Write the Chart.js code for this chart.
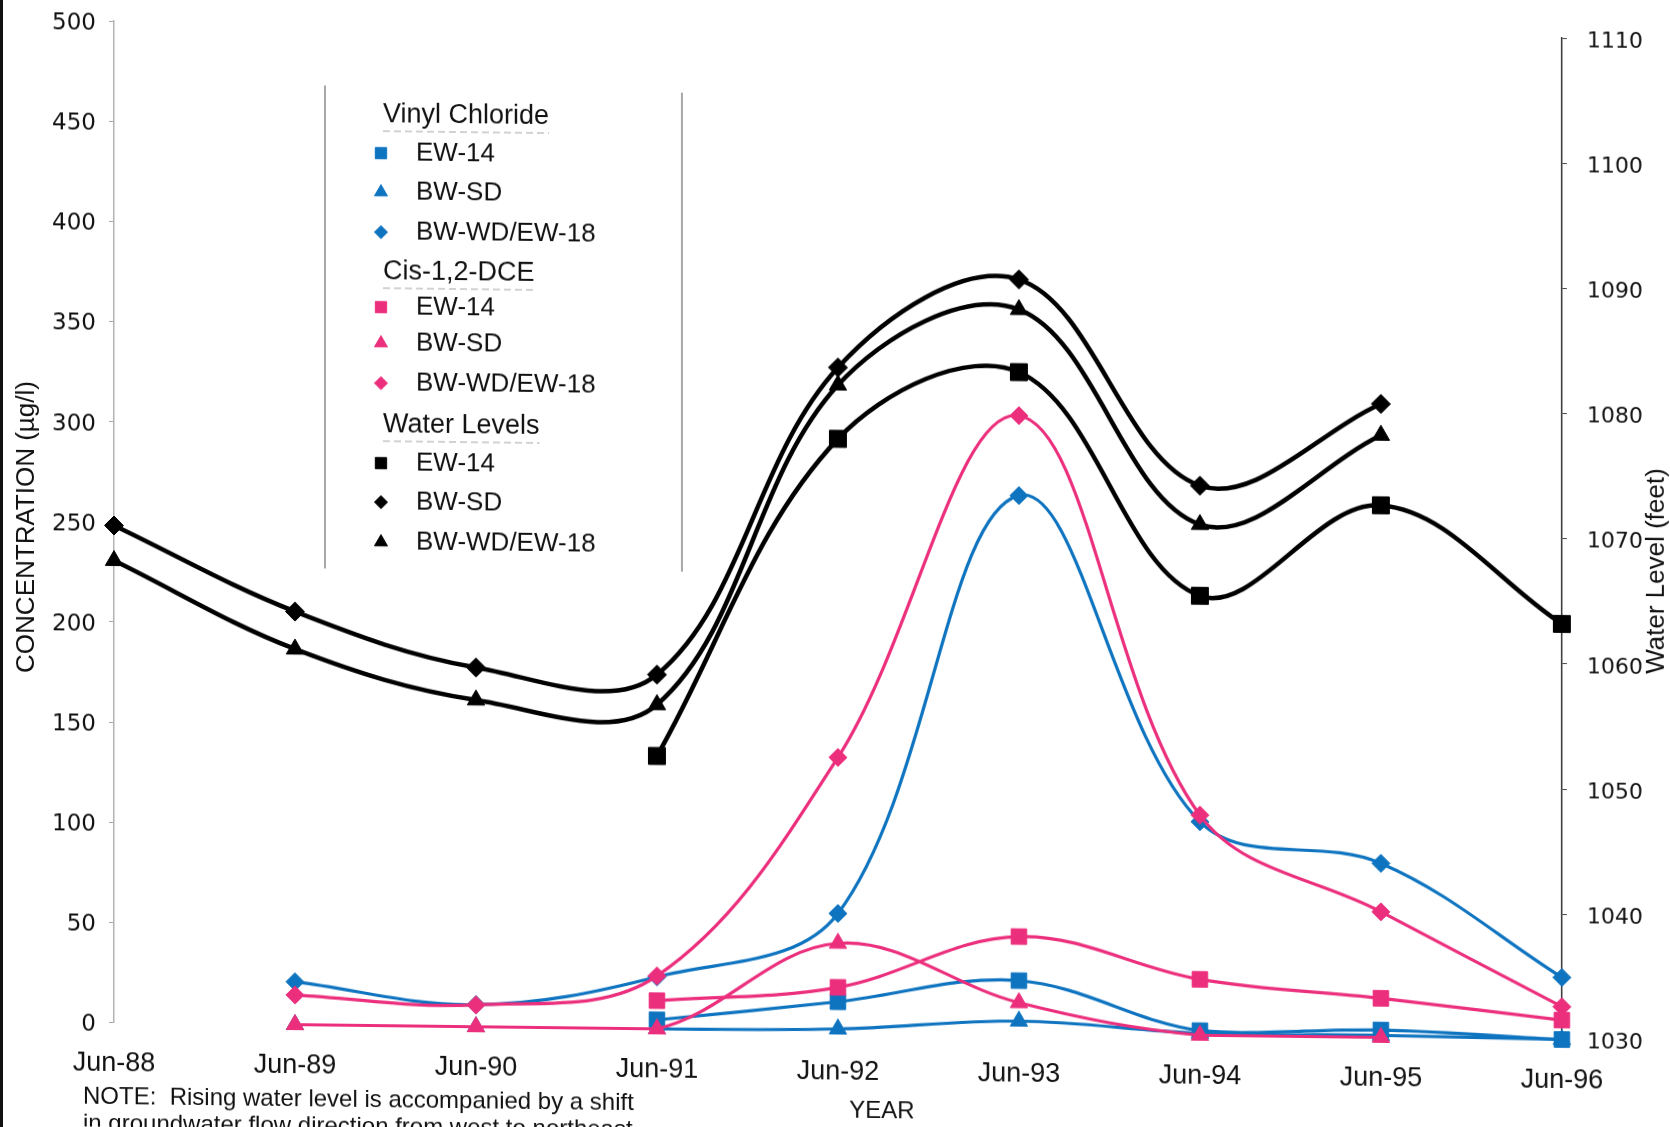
<!DOCTYPE html>
<html>
<head>
<meta charset="utf-8">
<title>Concentration and Water Levels, Jun-88 to Jun-96</title>
<script src="https://cdn.jsdelivr.net/npm/chart.js@4.4.1/dist/chart.umd.min.js"></script>
<style>
  html, body { margin: 0; padding: 0; background: #fff; overflow: hidden; }
  #page { position: relative; width: 1670px; height: 1127px; overflow: hidden; background: #fff; }
  /* the sheet sits slightly tilted on the page */
  #tilt { position: absolute; left: 0; top: 0; transform: skewY(0.674deg); transform-origin: 114px 0; }
  #edge { position: absolute; left: 0; top: 0; width: 3px; height: 1127px; background: #111; }
</style>
</head>
<body>
<div id="page">
  <div id="tilt"><canvas id="chart" width="1670" height="1127"></canvas></div>
  <div id="edge"></div>
</div>
<script>
// sampling dates
const years = ['Jun-88', 'Jun-89', 'Jun-90', 'Jun-91', 'Jun-92', 'Jun-93', 'Jun-94', 'Jun-95', 'Jun-96'];

// Vinyl Chloride, ug/l
const vcEW14 = [null, null, null, 4.5, 14.6, 26.2, 2.3, 3.7, 0];
const vcBWSD = [null, 0, 0, 0, 1, 6, 1, 1, 0];
const vcBWWD = [null, 21.4, 11, 26, 58.7, 268.4, 106.6, 86.9, 31];

// Cis-1,2-DCE, ug/l
const dceEW14 = [null, null, null, 14.1, 21.8, 48.2, 27.9, 19.5, 9.7];
const dceBWSD = [null, 0, 0, 0, 43.8, 15.2, 0, 0, null];
const dceBWWD = [null, 14.8, 10.9, 26.4, 136.6, 308.3, 109.9, 62.7, 16.4];

// Water levels, feet
const wlEW14 = [null, null, null, 1051.8, 1077.3, 1082.8, 1065.1, 1072.5, 1063.2];
const wlBWSD = [1069.7, 1063.0, 1058.7, 1058.3, 1083.0, 1090.2, 1073.9, 1080.6, null];
const wlBWWD = [1066.9, 1060.0, 1056.1, 1055.9, 1081.6, 1087.8, 1070.8, 1078.1, null];

// axis ticks
const concTicks = [0, 50, 100, 150, 200, 250, 300, 350, 400, 450, 500];
const levelTicks = [1030, 1040, 1050, 1060, 1070, 1080, 1090, 1100, 1110];

const BLUE = '#0f74c0';
const PINK = '#ec2f7d';
const BLACK = '#000000';
const SANS = "'Liberation Sans', Arial, sans-serif";
const WIDE = "'DejaVu Sans', sans-serif";

const groups = ['Vinyl Chloride', 'Cis-1,2-DCE', 'Water Levels'];

const series = [
  { group: 0, name: 'EW-14', data: vcEW14, color: BLUE, style: 'rect', r: 11, axis: 'y' },
  { group: 0, name: 'BW-SD', data: vcBWSD, color: BLUE, style: 'triangle', r: 10, axis: 'y' },
  { group: 0, name: 'BW-WD/EW-18', data: vcBWWD, color: BLUE, style: 'rectRot', r: 9, axis: 'y' },
  { group: 1, name: 'EW-14', data: dceEW14, color: PINK, style: 'rect', r: 11, axis: 'y' },
  { group: 1, name: 'BW-SD', data: dceBWSD, color: PINK, style: 'triangle', r: 10, axis: 'y' },
  { group: 1, name: 'BW-WD/EW-18', data: dceBWWD, color: PINK, style: 'rectRot', r: 9, axis: 'y' },
  { group: 2, name: 'EW-14', data: wlEW14, color: BLACK, style: 'rect', r: 12, axis: 'y2' },
  { group: 2, name: 'BW-SD', data: wlBWSD, color: BLACK, style: 'rectRot', r: 9.5, axis: 'y2' },
  { group: 2, name: 'BW-WD/EW-18', data: wlBWWD, color: BLACK, style: 'triangle', r: 10, axis: 'y2' }
];

// legend sizes per marker shape
const legendRadius = { rect: 8, rectRot: 6.5, triangle: 7.5 };

const datasets = series.map(s => ({
  label: groups[s.group] + ' ' + s.name,
  data: s.data,
  yAxisID: s.axis,
  borderColor: s.color,
  backgroundColor: s.color,
  borderWidth: s.group === 2 ? 4.5 : 3.2,
  pointStyle: s.style,
  pointRadius: s.r,
  pointBorderWidth: 1,
  pointBackgroundColor: s.color,
  pointBorderColor: s.color,
  tension: 0.36,
  spanGaps: true,
  clip: false,
  order: s.group === 2 ? 0 : (s.group === 1 ? 1 : 2)
}));

// titles, note and the grouped legend
const sheetText = {
  id: 'sheetText',
  afterDraw(chart) {
    const ctx = chart.ctx;
    ctx.save();
    ctx.fillStyle = '#111';
    ctx.textBaseline = 'middle';

    ctx.font = '26px ' + SANS;
    ctx.textAlign = 'center';
    ctx.save();
    ctx.translate(27, 528);
    ctx.rotate(-Math.PI / 2);
    ctx.fillText('CONCENTRATION (\u00b5g/l)', 0, 0);
    ctx.restore();

    ctx.save();
    ctx.translate(1657, 553);
    ctx.rotate(-Math.PI / 2);
    ctx.fillText('Water Level (feet)', 0, 0);
    ctx.restore();

    ctx.font = '24px ' + SANS;
    ctx.fillText('YEAR', 882, 1102);

    ctx.textAlign = 'left';
    ctx.fillText('NOTE:  Rising water level is accompanied by a shift', 83, 1097);
    ctx.fillText('in groundwater flow direction from west to northeast.', 83, 1124);

    // legend frame: side rules only
    ctx.strokeStyle = '#8a8a8a';
    ctx.lineWidth = 1.5;
    ctx.beginPath();
    ctx.moveTo(325, 83);
    ctx.lineTo(325, 566);
    ctx.moveTo(682, 86);
    ctx.lineTo(682, 565);
    ctx.stroke();

    const headerY = [112, 269, 422];
    const itemY = [150, 189, 229, 304, 340, 380, 460, 499, 539];
    groups.forEach((g, gi) => {
      ctx.font = '27px ' + SANS;
      ctx.fillStyle = '#111';
      ctx.fillText(g, 383, headerY[gi]);
      const w = ctx.measureText(g).width;
      ctx.save();
      ctx.strokeStyle = '#c4c4c4';
      ctx.lineWidth = 1.5;
      ctx.setLineDash([7, 4]);
      ctx.beginPath();
      ctx.moveTo(383, headerY[gi] + 16);
      ctx.lineTo(383 + w, headerY[gi] + 16);
      ctx.stroke();
      ctx.restore();
    });
    series.forEach((s, i) => {
      ctx.fillStyle = s.color;
      ctx.strokeStyle = s.color;
      ctx.lineWidth = 1;
      Chart.helpers.drawPoint(ctx, {
        pointStyle: s.style,
        radius: legendRadius[s.style],
        rotation: 0,
        borderWidth: 1
      }, 381, itemY[i]);
      ctx.font = '26px ' + SANS;
      ctx.fillStyle = '#111';
      ctx.fillText(s.name, 416, itemY[i]);
    });
    ctx.restore();
  }
};

// keep the plot frame fixed: axis label overhang must not push the chart area
const flatPadding = s => { s.paddingTop = 0; s.paddingBottom = 0; };

new Chart(document.getElementById('chart'), {
  type: 'line',
  data: { labels: years, datasets: datasets },
  options: {
    responsive: false,
    animation: false,
    layout: { padding: { top: 21, left: 0, right: 0, bottom: 0 } },
    plugins: {
      legend: { display: false },
      tooltip: { enabled: false }
    },
    scales: {
      x: {
        offset: false,
        grid: { display: false },
        border: { display: false },
        ticks: {
          color: '#111',
          font: { family: SANS, size: 27, lineHeight: 1 },
          padding: 20,
          maxRotation: 0,
          autoSkip: false
        },
        afterFit: s => { s.height = 104.5; }
      },
      y: {
        position: 'left',
        min: 0,
        max: 500,
        afterBuildTicks: s => { s.ticks = concTicks.map(v => ({ value: v })); },
        grid: { drawOnChartArea: false, drawTicks: true, tickLength: 5, color: '#a8a8a8', lineWidth: 1 },
        border: { display: true, color: '#b4b4b4', width: 1.5, dash: [40, 8] },
        ticks: {
          color: '#111',
          font: { family: WIDE, size: 23 },
          padding: 13,
          labelOffset: 3,
          callback: v => String(v)
        },
        afterFit: s => { s.width = 114; flatPadding(s); }
      },
      y2: {
        position: 'right',
        min: 1030,
        max: 1110,
        afterBuildTicks: s => { s.ticks = levelTicks.map(v => ({ value: v })); },
        grid: { drawOnChartArea: false, drawTicks: true, tickLength: 5, color: '#444', lineWidth: 1 },
        border: { display: true, color: '#333', width: 1.5 },
        ticks: {
          color: '#111',
          font: { family: WIDE, size: 22 },
          padding: 20,
          labelOffset: 3,
          callback: v => String(v)
        },
        afterFit: s => { s.width = 108; flatPadding(s); }
      }
    }
  },
  plugins: [sheetText]
});
</script>
</body>
</html>
